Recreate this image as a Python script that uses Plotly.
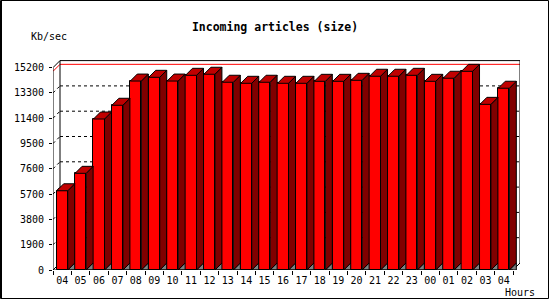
import plotly.graph_objects as go

# ---- data ----
hours = ["04", "05", "06", "07", "08", "09", "10", "11", "12", "13", "14", "15",
         "16", "17", "18", "19", "20", "21", "22", "23", "00", "01", "02", "03", "04"]
values = [5950, 7260, 11340, 12370, 14190, 14470, 14190, 14620, 14700, 14100,
          14020, 14100, 14020, 14020, 14170, 14170, 14245, 14550, 14550, 14620,
          14170, 14400, 14920, 12440, 13650]
y_tick_vals = [0, 1900, 3800, 5700, 7600, 9500, 11400, 13300, 15200]
y_tick_text = [str(v) for v in y_tick_vals]
title_text = "Incoming articles (size)"
y_label = "Kb/sec"
x_label = "Hours"

# ---- geometry ----
FIG_W, FIG_H = 550, 300
L, R, T, B = 53, 30, 60, 30
PW = FIG_W - L - R
PH = FIG_H - T - B
N = len(hours)
SLOT_PX = 460 / N
Y_TOP = y_tick_vals[-1]
FRONT_H_PX = 202.4
DEPTH_PX = 7
x_per_px = 1 / SLOT_PX
y_per_px = Y_TOP / FRONT_H_PX
DX = DEPTH_PX * x_per_px
DY = DEPTH_PX * y_per_px
x_range = [-0.5, -0.5 + PW * x_per_px]
y_range = [0, PH * y_per_px]
HALF = 0.3
xs = list(range(N))

def px_x(p):
    return (p - L) / PW

def px_y(p):
    return (FIG_H - B - p) / PH

# polygons for 3D faces, derived from the data
side_x, side_y, top_x, top_y, flo_x, flo_y = [], [], [], [], [], []
for c, v in zip(xs, values):
    r = c + HALF
    side_x += [r, r, r + DX, r + DX, r, None]
    side_y += [0, v, v + DY, DY, 0, None]
    top_x += [c - HALF, r, r + DX, c - HALF + DX, c - HALF, None]
    top_y += [v, v, v + DY, v + DY, v, None]
    flo_x += [r, r + DX, r + DX, r, None]
    flo_y += [0, DY, 0, 0, None]

fig = go.Figure()
fig.add_trace(go.Bar(x=xs, y=values, width=2 * HALF,
                     marker=dict(color="#ff0000", line=dict(color="black", width=1)),
                     hoverinfo="skip", showlegend=False))
fig.add_trace(go.Scatter(x=flo_x, y=flo_y, mode="lines", fill="toself",
                         fillcolor="#808080", line=dict(color="black", width=1),
                         hoverinfo="skip", showlegend=False))
fig.add_trace(go.Scatter(x=side_x, y=side_y, mode="lines", fill="toself",
                         fillcolor="#800000", line=dict(color="black", width=1),
                         hoverinfo="skip", showlegend=False))
fig.add_trace(go.Scatter(x=top_x, y=top_y, mode="lines", fill="toself",
                         fillcolor="#c00000", line=dict(color="black", width=1),
                         hoverinfo="skip", showlegend=False))

shapes = []
x0, x1 = -0.5, N - 0.5
# dotted gridlines on back plane
for v in y_tick_vals[1:-1]:
    shapes.append(dict(type="line", xref="x", yref="y", x0=x0 + DX, x1=x1 + DX,
                       y0=v + DY, y1=v + DY, layer="below",
                       line=dict(color="black", width=1, dash="dot")))
    shapes.append(dict(type="line", xref="x", yref="y", x0=x0, x1=x0 + DX,
                       y0=v, y1=v + DY, layer="below",
                       line=dict(color="black", width=1, dash="dot")))
# red max line
vmax = max(values)
shapes.append(dict(type="line", xref="x", yref="y", x0=x0 + DX, x1=x1 + DX,
                   y0=vmax + DY, y1=vmax + DY, layer="below",
                   line=dict(color="#ff0000", width=1)))
shapes.append(dict(type="line", xref="x", yref="y", x0=x0, x1=x0 + DX,
                   y0=vmax, y1=vmax + DY, layer="below",
                   line=dict(color="#ff0000", width=1)))
# back frame
frame_back = [
    (x0 + DX, Y_TOP + DY, x1 + DX, Y_TOP + DY),
    (x0 + DX, DY, x0 + DX, Y_TOP + DY),
    (x1 + DX, DY, x1 + DX, Y_TOP + DY),
    (x0, Y_TOP, x0 + DX, Y_TOP + DY),
    (x1, 0, x1 + DX, DY),
    (x0, 0, x0 + DX, DY),
]
for a, b, c, d in frame_back:
    shapes.append(dict(type="line", xref="x", yref="y", x0=a, y0=b, x1=c, y1=d,
                       layer="below", line=dict(color="black", width=1)))
# front axes
for a, b, c, d in [(x0, 0, x0, Y_TOP), (x0, 0, x1, 0)]:
    shapes.append(dict(type="line", xref="x", yref="y", x0=a, y0=b, x1=c, y1=d,
                       layer="above", line=dict(color="black", width=1)))
# outer border
shapes.append(dict(type="rect", xref="paper", yref="paper",
                   x0=px_x(0.5), x1=px_x(548.5), y0=px_y(298.5), y1=px_y(0.5),
                   line=dict(color="black", width=1), layer="above"))
shapes.append(dict(type="line", xref="paper", yref="paper",
                   x0=px_x(1.5), x1=px_x(1.5), y0=px_y(298.5), y1=px_y(0.5),
                   line=dict(color="black", width=1), layer="above"))

mono = "DejaVu Sans Mono"
annotations = [
    dict(text=y_label, xref="paper", yref="paper", x=px_x(29), y=px_y(37),
         xanchor="left", yanchor="middle", showarrow=False,
         font=dict(family=mono, size=10, color="black")),
    dict(text=x_label, xref="paper", yref="paper", x=px_x(503), y=px_y(292),
         xanchor="left", yanchor="middle", showarrow=False,
         font=dict(family=mono, size=10, color="black")),
]

fig.update_layout(
    width=FIG_W, height=FIG_H,
    margin=dict(l=L, r=R, t=T, b=B, pad=0),
    paper_bgcolor="white", plot_bgcolor="white",
    title=dict(text=title_text, x=0.5, xref="container", xanchor="center",
               y=1 - 27 / FIG_H, yref="container", yanchor="middle",
               font=dict(family=mono, size=11.5, color="black", weight="bold")),
    shapes=shapes, annotations=annotations,
    bargap=0, showlegend=False,
    xaxis=dict(range=x_range, tickmode="array", tickvals=xs, ticktext=hours,
               showgrid=False, zeroline=False, showline=False,
               ticks="outside", ticklen=1, tickcolor="rgba(0,0,0,0)",
               tickfont=dict(family=mono, size=10, color="black"),
               minor=dict(tickmode="array", tickvals=[i - 0.5 for i in range(N + 1)],
                          ticks="outside", ticklen=4, tickcolor="black", tickwidth=1,
                          showgrid=False),
               fixedrange=True),
    yaxis=dict(range=y_range, tickmode="array", tickvals=y_tick_vals,
               ticktext=y_tick_text, showgrid=False, zeroline=False, showline=False,
               ticks="outside", ticklen=3, tickcolor="black", tickwidth=1,
               ticklabelstandoff=3,
               tickfont=dict(family=mono, size=10, color="black"),
               fixedrange=True),
)

fig.write_html("out.html")
